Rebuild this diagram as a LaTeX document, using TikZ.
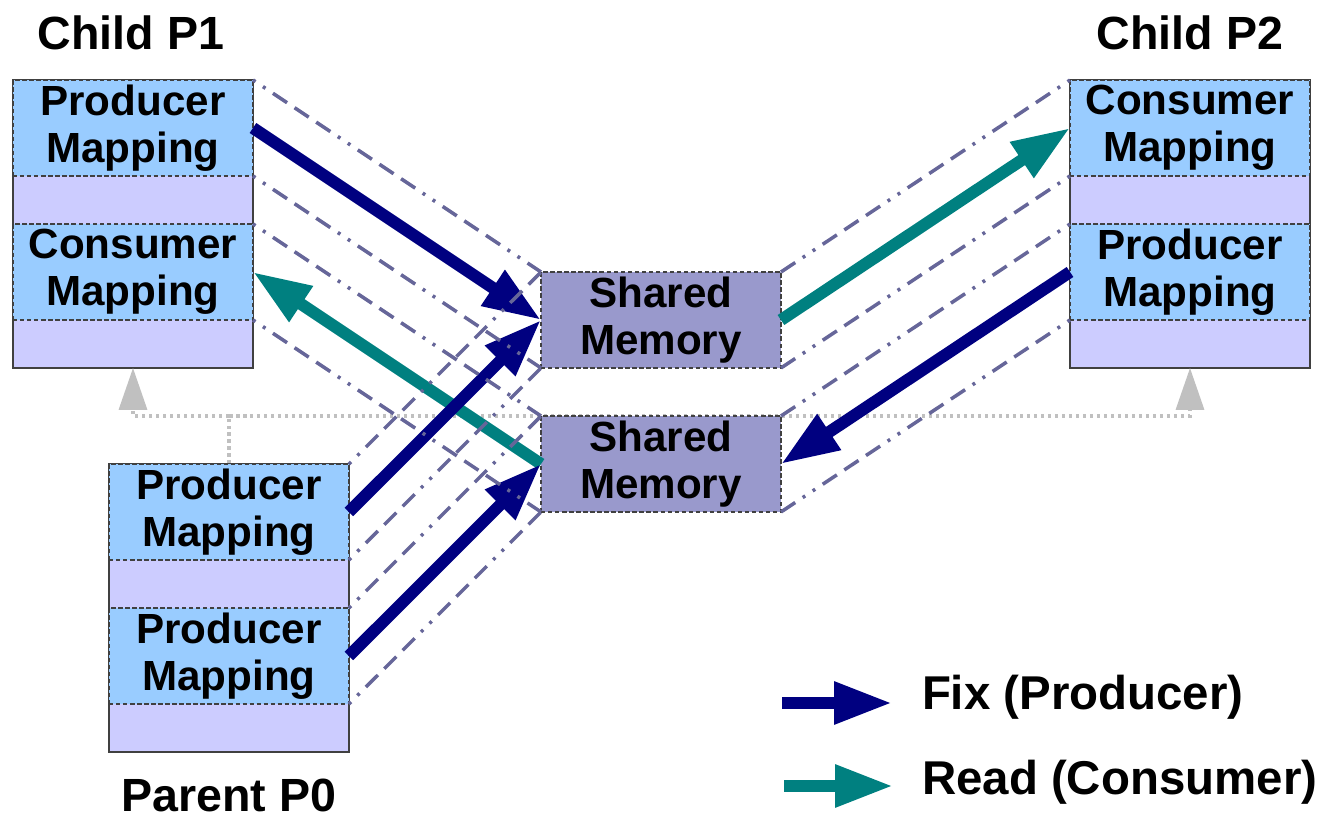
\documentclass[tikz,border=0pt]{standalone}
\usepackage{fontspec}
\setmainfont{Liberation Sans}
\usetikzlibrary{arrows.meta}
\definecolor{mapblue}{HTML}{99CCFF}
\definecolor{padlav}{HTML}{CCCCFF}
\definecolor{shmfill}{HTML}{9999CC}
\definecolor{fixnavy}{HTML}{000080}
\definecolor{readteal}{HTML}{008080}
\definecolor{guidecol}{HTML}{666699}
\definecolor{forkgrey}{HTML}{C0C0C0}
\begin{document}
    \begin{tikzpicture}[x=0.02cm,y=-0.02cm,
        every node/.style={font=\fontsize{24}{27}\selectfont\bfseries,outer sep=0pt,inner sep=0pt},
        procbox/.style={draw=black!75,line width=0.9pt,fill=padlav,minimum width=4.8cm,minimum height=5.76cm},
        mapbox/.style={draw=black!75,line width=0.7pt,dash pattern=on 2.5pt off 1.5pt,fill=mapblue,
            minimum width=4.8cm,minimum height=1.92cm,align=center,execute at begin node=\rule{0pt}{21pt}},
        shmbox/.style={mapbox,fill=shmfill},
        guide/.style={draw=guidecol,line width=0.07cm,dash pattern=on 0.06cm off 0.18cm on 0.06cm off 0.18cm
            on 0.34cm off 0.18cm on 0.34cm off 0.18cm on 0.34cm off 0.18cm},
        fix/.style={color=fixnavy,line width=0.24cm,-{Triangle[length=1.16cm,width=0.8cm]}},
        read/.style={fix,color=readteal},
        forkline/.style={draw=forkgrey,line width=0.07cm,dash pattern=on 0.07cm off 0.07cm},
        fork/.style={forkline,-{Triangle[length=0.84cm,width=0.56cm]}},
        title/.style={font=\fontsize{26.5}{30}\selectfont\bfseries,anchor=base},
        legend/.style={font=\fontsize{27}{30}\selectfont\bfseries,anchor=base west}]
        \useasboundingbox (0,0) rectangle (1323,820);
        \coordinate (split) at (229,416);
        \draw[forkline] (229,464) -- (split);
        \node[procbox] (p1) at (133,224) {};
        \node[procbox] (p2) at (1190,224) {};
        \node[procbox] (p0) at (229,608) {};
        \draw[fork] (split) -| (p1.south);
        \draw[fork] (split) -| (p2.south);
        \node[mapbox] (p1prod) at (133,128) {Producer\\Mapping};
        \node[mapbox] (p1cons) at (133,272) {Consumer\\Mapping};
        \node[mapbox] (p2cons) at (1190,128) {Consumer\\Mapping};
        \node[mapbox] (p2prod) at (1190,272) {Producer\\Mapping};
        \node[mapbox] (p0proda) at (229,512) {Producer\\Mapping};
        \node[mapbox] (p0prodb) at (229,656) {Producer\\Mapping};
        \node[shmbox] (shma) at (661,320) {Shared\\Memory};
        \node[shmbox] (shmb) at (661,464) {Shared\\Memory};
        \draw[fix] (p1prod.east) -- (shma.west);
        \draw[read] (shmb.west) -- (p1cons.east);
        \draw[fix] (p0proda.east) -- (shma.west);
        \draw[fix] (p0prodb.east) -- (shmb.west);
        \draw[read] (shma.east) -- (p2cons.west);
        \draw[fix] (p2prod.west) -- (shmb.east);
        \draw[guide] (p1prod.north east) -- (shma.north west);
        \draw[guide] (p1prod.south east) -- (shma.south west);
        \draw[guide] (p1cons.north east) -- (shmb.north west);
        \draw[guide] (p1cons.south east) -- (shmb.south west);
        \draw[guide] (p2cons.north west) -- (shma.north east);
        \draw[guide] (p2cons.south west) -- (shma.south east);
        \draw[guide] (p2prod.north west) -- (shmb.north east);
        \draw[guide] (p2prod.south west) -- (shmb.south east);
        \draw[guide] (p0proda.north east) -- (shma.north west);
        \draw[guide] (p0proda.south east) -- (shma.south west);
        \draw[guide] (p0prodb.north east) -- (shmb.north west);
        \draw[guide] (p0prodb.south east) -- (shmb.south west);
        \node[title] (p1title) at (131,50) {Child P1};
        \node[title] (p2title) at (1190,50) {Child P2};
        \node[title] (p0title) at (229,812) {Parent P0};
        \coordinate (fixa) at (782,703);
        \coordinate (fixb) at (892,703);
        \coordinate (reada) at (784,786);
        \coordinate (readb) at (893,786);
        \draw[fix] (fixa) -- (fixb);
        \draw[read] (reada) -- (readb);
        \node[legend] (fixtext) at (922,710) {Fix (Producer)};
        \node[legend] (readtext) at (922,795) {Read (Consumer)};
    \end{tikzpicture}
\end{document}
